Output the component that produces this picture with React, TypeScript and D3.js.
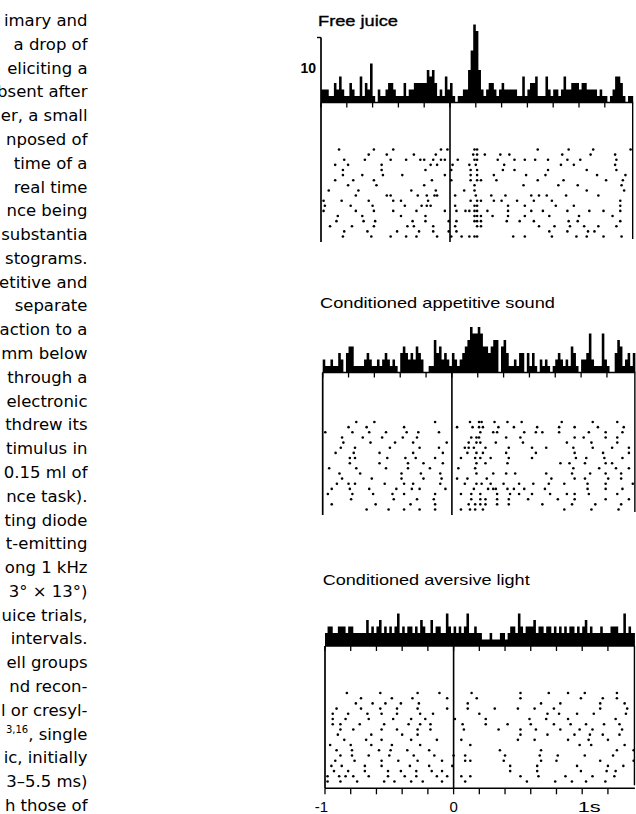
import React from "react";
import * as d3 from "d3";

// ---------------- DATA ----------------
const panelTitles = ["Free juice", "Conditioned appetitive sound", "Conditioned aversive light"];
const timeTicks = [-1, -0.8, -0.6, -0.4, -0.2, 0, 0.2, 0.4, 0.6, 0.8, 1, 1.2];
const bottomTickValues = [-1, 0, 1];
const bottomTickLabels = ["-1", "0", "1s"];
const scaleBarValue = 10;
const scaleBarLabel = "10";
const binStart = -1;
const binWidth = 0.02;

// impulses per 20 ms bin, from -1 s
const juiceCounts = [
  2, 2, 2, 1, 1, 3, 2, 4, 2, 1,
  1, 3, 2, 1, 1, 4, 1, 3, 2, 6,
  1, 0, 2, 1, 1, 2, 3, 3, 2, 1,
  1, 1, 3, 1, 2, 2, 3, 3, 3, 3,
  3, 5, 4, 5, 3, 1, 2, 1, 4, 2,
  3, 1, 0, 1, 1, 2, 2, 5, 8, 12,
  11, 5, 2, 1, 2, 3, 3, 2, 1, 2,
  3, 2, 2, 2, 2, 2, 1, 1, 4, 1,
  2, 3, 3, 4, 1, 1, 1, 4, 2, 1,
  2, 2, 1, 2, 4, 2, 2, 3, 3, 3,
  2, 3, 3, 2, 2, 2, 2, 1, 2, 1,
  1, 0, 1, 2, 4, 4, 3, 1, 0, 1, 1,
];
const soundCounts = [
  2, 1, 1, 2, 1, 1, 3, 2, 0, 3,
  4, 4, 1, 1, 1, 1, 2, 3, 2, 1,
  1, 2, 1, 2, 3, 2, 1, 2, 1, 0,
  3, 4, 3, 2, 3, 2, 4, 3, 2, 0,
  0, 1, 1, 5, 3, 4, 2, 3, 2, 1,
  3, 2, 1, 2, 3, 4, 5, 7, 6, 6,
  7, 6, 4, 4, 3, 4, 5, 5, 0, 4,
  5, 3, 1, 1, 2, 1, 3, 3, 0, 3,
  1, 3, 1, 0, 2, 1, 2, 1, 0, 1,
  2, 3, 2, 1, 2, 1, 4, 3, 1, 0,
  2, 2, 3, 6, 2, 1, 1, 1, 6, 2,
  1, 0, 0, 3, 5, 4, 1, 2, 3, 1, 3,
];
const lightCounts = [
  2, 3, 3, 2, 2, 3, 3, 3, 2, 3,
  3, 2, 2, 2, 2, 2, 4, 2, 3, 2,
  3, 4, 2, 3, 2, 3, 2, 3, 5, 2,
  3, 2, 3, 3, 2, 3, 2, 4, 3, 2,
  2, 4, 2, 3, 3, 2, 2, 5, 3, 2,
  3, 2, 3, 2, 3, 5, 2, 2, 3, 2,
  2, 1, 1, 1, 2, 1, 1, 1, 2, 2,
  1, 2, 3, 3, 2, 5, 3, 2, 3, 3,
  3, 4, 2, 3, 3, 2, 3, 3, 2, 3,
  2, 3, 2, 3, 2, 3, 3, 2, 3, 2,
  3, 4, 2, 3, 2, 2, 2, 3, 2, 2,
  2, 3, 3, 3, 2, 2, 5, 2, 3, 2, 2,
];

// spike times (s) per trial
const juiceRaster = [
  [-0.86, -0.59, -0.44, -0.07, -0.02, 0.19, 0.21, 0.68, 0.92, 1.11, 1.40],
  [-0.63, -0.49, -0.28, -0.11, 0.18, 0.21, 0.27, 0.39, 0.46, 0.87, 1.09, 1.28],
  [-0.82, -0.66, -0.46, -0.34, -0.23, -0.20, -0.13, -0.07, -0.04, 0.06, 0.19, 0.21, 0.37, 0.50, 0.58, 0.66, 0.76, 0.91, 1.01, 1.29],
  [-0.89, -0.79, -0.53, -0.15, -0.10, 0.02, 0.15, 0.20, 0.42, 0.86, 0.96, 1.28],
  [-0.83, -0.53, -0.19, 0.01, 0.16, 0.21, 0.41, 0.50, 0.76, 1.06, 1.29],
  [-0.83, -0.68, -0.52, -0.37, -0.04, 0.16, 0.21, 0.34, 0.59, 0.74, 1.14, 1.36],
  [-0.89, -0.75, -0.59, -0.14, 0.01, 0.16, 0.21, 0.24, 0.36, 0.68, 0.88, 1.21, 1.34],
  [-0.79, -0.57, -0.20, 0.19, 0.57, 0.84, 0.99, 1.33],
  [-0.94, -0.71, -0.30, -0.11, 0.11, 0.19, 1.06, 1.35],
  [-0.73, -0.49, -0.46, -0.25, -0.18, -0.12, -0.10, 0.04, 0.20, 0.32, 0.43, 0.63, 0.69, 0.75, 0.90, 1.15],
  [-0.98, -0.84, -0.63, -0.44, -0.38, -0.17, 0.16, 0.21, 0.24, 0.34, 0.40, 0.52, 0.65, 0.79, 1.32],
  [-0.97, -0.77, -0.60, -0.35, -0.22, -0.18, -0.15, 0.04, 0.19, 0.21, 0.45, 0.58, 0.82, 0.96, 1.32],
  [-0.98, -0.73, -0.59, -0.44, -0.26, -0.04, 0.05, 0.12, 0.15, 0.19, 0.21, 0.29, 0.45, 0.63, 0.72, 0.91, 1.08, 1.19, 1.32],
  [-0.87, -0.68, -0.38, -0.19, 0.19, 0.21, 0.24, 0.33, 0.45, 0.58, 0.77, 1.00, 1.26],
  [-0.88, -0.67, -0.58, -0.29, -0.19, -0.01, 0.05, 0.19, 0.21, 0.24, 0.44, 0.54, 0.65, 0.92, 0.99, 1.32],
  [-0.93, -0.76, -0.59, -0.33, -0.28, -0.13, 0.04, 0.21, 0.24, 0.69, 0.81, 0.93, 1.04, 1.15, 1.29],
  [-0.82, -0.64, -0.41, -0.24, -0.13, -0.01, 0.05, 0.77, 0.91, 1.07, 1.12],
  [-0.83, -0.61, -0.46, -0.34, -0.26, -0.10, 0.01, 0.09, 0.15, 0.19, 0.21, 0.49, 0.58, 0.79, 0.98, 1.06, 1.19, 1.33],
];
const soundRaster = [
  [-0.74, -0.60, -0.13, 0.14, 0.21, 0.23, 0.33, 0.43, 0.54, 0.85, 1.09, 1.28],
  [-0.80, -0.66, -0.37, 0.04, 0.16, 0.21, 0.24, 0.36, 0.48, 0.66, 0.83, 0.95, 1.13, 1.33],
  [-0.98, -0.77, -0.64, -0.51, -0.35, -0.26, -0.10, 0.22, 0.32, 0.35, 0.56, 0.65, 0.70, 0.83, 1.06, 1.19, 1.32],
  [-0.85, -0.69, -0.54, -0.38, -0.27, 0.15, 0.19, 0.21, 0.42, 0.53, 0.95, 1.02, 1.19, 1.28],
  [-0.84, -0.63, -0.44, -0.30, -0.04, 0.13, 0.19, 0.22, 0.34, 0.55, 0.89, 1.08, 1.28],
  [-0.86, -0.75, -0.48, -0.25, -0.10, 0.10, 0.13, 0.17, 0.26, 0.44, 0.62, 0.73, 0.94, 1.09, 1.24, 1.37],
  [-0.90, -0.76, -0.56, -0.30, -0.07, 0.12, 0.19, 0.24, 0.42, 0.65, 0.95, 1.17, 1.37],
  [-0.79, -0.75, -0.50, -0.36, -0.28, -0.13, 0.07, 0.18, 0.22, 0.30, 0.44, 0.62, 0.96, 1.04, 1.18, 1.32],
  [-0.79, -0.56, -0.34, -0.22, -0.07, 0.19, 0.26, 0.43, 0.84, 0.91, 1.03, 1.19, 1.24],
  [-0.95, -0.74, -0.51, -0.34, -0.17, 0.05, 0.18, 0.94, 1.14, 1.27, 1.37],
  [-0.87, -0.71, -0.39, -0.24, -0.09, 0.19, 0.32, 0.42, 0.49, 0.73, 0.93, 1.07, 1.19, 1.31],
  [-0.85, -0.62, -0.39, -0.22, -0.08, 0.04, 0.12, 0.27, 0.77, 0.95, 1.03, 1.21, 1.31],
  [-0.89, -0.80, -0.75, -0.52, -0.37, -0.30, -0.09, 0.10, 0.19, 0.23, 0.30, 0.40, 0.52, 0.63, 0.75, 0.87, 1.05, 1.19, 1.40],
  [-0.93, -0.79, -0.64, -0.43, -0.31, -0.25, -0.05, 0.17, 0.28, 0.32, 0.34, 0.43, 0.48, 0.56, 0.72, 1.05, 1.19, 1.32],
  [-0.96, -0.77, -0.61, -0.46, -0.37, -0.13, 0.07, 0.15, 0.22, 0.35, 0.45, 0.52, 0.62, 0.76, 0.89, 0.95, 1.06, 1.28],
  [-0.78, -0.45, -0.27, -0.14, 0.15, 0.22, 0.26, 0.35, 0.44, 0.59, 0.82, 0.95, 1.19, 1.37],
  [-0.93, -0.59, -0.32, -0.13, 0.13, 0.18, 0.22, 0.26, 0.35, 0.44, 0.70, 0.93, 1.11, 1.31],
  [-0.66, -0.49, -0.37, -0.25, -0.13, 0.07, 0.14, 0.18, 0.24, 0.87, 1.08, 1.29],
];
const lightRaster = [
  [-0.83, -0.57, -0.28, -0.11, 0.14, 0.52, 0.74, 0.89, 1.02, 1.27],
  [-0.72, -0.48, -0.32, -0.05, 0.18, 0.52, 0.99, 1.16, 1.27],
  [-0.76, -0.63, -0.53, -0.41, -0.27, 0.11, 0.68, 0.83, 1.14, 1.33],
  [-0.91, -0.72, -0.57, -0.44, -0.28, -0.05, 0.11, 0.32, 0.50, 0.63, 0.78, 1.14, 1.35],
  [-0.94, -0.82, -0.67, -0.56, -0.44, -0.26, -0.16, 0.20, 0.73, 0.82, 0.96, 1.09, 1.34],
  [-0.94, -0.84, -0.66, -0.47, -0.33, -0.22, 0.01, 0.25, 0.59, 0.72, 0.89, 1.26],
  [-0.94, -0.88, -0.73, -0.54, -0.35, -0.26, -0.18, 0.07, 0.25, 0.42, 0.60, 0.78, 0.91, 1.03, 1.17, 1.29],
  [-0.88, -0.78, -0.56, -0.44, -0.28, -0.18, 0.08, 0.35, 0.52, 0.64, 0.83, 0.98, 1.08, 1.31],
  [-0.90, -0.64, -0.40, -0.28, 0.52, 0.73, 0.94, 1.06, 1.16, 1.29],
  [-0.85, -0.68, -0.56, -0.33, -0.13, 0.06, 0.50, 0.63, 0.89, 1.05, 1.20],
  [-0.96, -0.80, -0.64, -0.48, -0.26, 0.13, 0.98, 1.07, 1.33],
  [-0.91, -0.79, -0.58, -0.49, -0.36, -0.19, 0.36, 0.68, 1.27, 1.40],
  [-0.88, -0.79, -0.66, -0.50, -0.31, -0.15, 0.00, 0.09, 0.40, 0.67, 0.81, 1.02, 1.24],
  [-0.92, -0.77, -0.56, -0.43, -0.28, -0.09, 0.09, 0.13, 0.39, 0.68, 0.80, 1.14, 1.40],
  [-0.95, -0.87, -0.69, -0.56, -0.34, -0.19, -0.01, 0.44, 0.65, 0.96, 1.20, 1.32],
  [-0.93, -0.82, -0.69, -0.51, -0.41, -0.29, -0.17, -0.09, 0.44, 0.65, 0.99, 1.19, 1.26],
  [-0.98, -0.89, -0.84, -0.78, -0.66, -0.51, -0.38, -0.29, -0.13, -0.05, 0.06, 0.13, 0.52, 0.66, 0.87, 1.08, 1.25],
  [-0.98, -0.88, -0.75, -0.54, -0.46, -0.33, -0.24, -0.09, 0.09, 0.57, 0.79, 0.92, 1.03, 1.18],
];

const paragraphLines = [
  "imary and", "a drop of", "eliciting a", "bsent after", "er, a small", "nposed of",
  "time of a", "real time", "nce being", "substantia", "stograms.", "etitive and",
  "separate", "action to a", "mm below", "through a", "electronic", "thdrew its",
  "timulus in", "0.15 ml of", "nce task).", "ting diode", "t-emitting", "ong 1 kHz",
  "3° × 13°)", "uice trials,", "intervals.", "ell groups", "nd recon-", "l or cresyl-",
  "SUP", "ic, initially", "3–5.5 ms)", "h those of",
];

// ---------------- LAYOUT ----------------
const countsList = [juiceCounts, soundCounts, lightCounts];
const rastersList = [juiceRaster, soundRaster, lightRaster];
const layout = [
  { x0: 321, pps: 129, tEnd: 1.42, base: 102.5, rTop: 149.5, rBot: 236.5, lineBot: 242, tx: 318, ty: 25.7, tLen: 80, bold: true },
  { x0: 322.7, pps: 129.2, tEnd: 1.42, base: 372.5, rTop: 422, rBot: 509.5, lineBot: 515, tx: 320, ty: 307.7, tLen: 235, bold: false },
  { x0: 325, pps: 128.6, tEnd: 1.41, base: 646, rTop: 693, rBot: 781.5, lineBot: 788.3, tx: 322.7, ty: 584.5, tLen: 207, bold: false },
];
const pxPerCount = 6.5;
const FONT = "'Liberation Sans', Arial, Helvetica, sans-serif";

function Panel({ idx }: { idx: number }) {
  const L = layout[idx];
  const counts = countsList[idx];
  const raster = rastersList[idx];
  const xs = d3.scaleLinear().domain([-1, L.tEnd]).range([L.x0, L.x0 + (L.tEnd + 1) * L.pps]);
  const ys = d3.scaleLinear().domain([0, scaleBarValue]).range([L.base, L.base - scaleBarValue * pxPerCount]);
  const rows = d3.scaleLinear().domain([0, raster.length - 1]).range([L.rTop, L.rBot]);
  const right = xs(L.tEnd);

  const pts: [number, number][] = [];
  counts.forEach((c, i) => {
    const t = binStart + i * binWidth;
    if (t < L.tEnd - 1e-9) pts.push([t, c]);
  });
  pts.push([L.tEnd, pts[pts.length - 1][1]]);
  const area = d3
    .area<[number, number]>()
    .curve(d3.curveStepAfter)
    .x((d) => xs(d[0]))
    .y0(L.base)
    .y1((d) => ys(d[1]));

  return (
    <g>
      <text
        x={L.tx}
        y={L.ty}
        fontFamily={FONT}
        fontSize={15}
        textLength={L.tLen}
        lengthAdjust="spacingAndGlyphs"
        fill="#000"
        stroke={L.bold ? "#000" : "none"}
        strokeWidth={L.bold ? 0.35 : 0}
      >
        {panelTitles[idx]}
      </text>
      <path d={area(pts) || ""} fill="#000" />
      <line x1={L.x0} x2={right} y1={L.base} y2={L.base} stroke="#000" strokeWidth={1.6} />
      {timeTicks.map((t) => (
        <line key={t} x1={xs(t)} x2={xs(t)} y1={L.base} y2={L.base + 5} stroke="#000" strokeWidth={1.3} />
      ))}
      <line x1={L.x0} x2={L.x0} y1={idx === 0 ? ys(scaleBarValue) : L.base} y2={L.lineBot} stroke="#000" strokeWidth={1.7} />
      <line x1={xs(0)} x2={xs(0)} y1={L.base} y2={L.lineBot} stroke="#000" strokeWidth={1.6} />
      <line x1={right - 0.5} x2={right - 0.5} y1={L.base} y2={L.lineBot - 3} stroke="#000" strokeWidth={1.4} />
      {idx === 0 && (
        <g>
          <line x1={L.x0 - 4} x2={L.x0} y1={ys(scaleBarValue)} y2={ys(scaleBarValue)} stroke="#000" strokeWidth={1.4} />
          <text x={L.x0 - 5} y={73} textAnchor="end" fontFamily={FONT} fontSize={14} fontWeight="bold" fill="#000">
            {scaleBarLabel}
          </text>
        </g>
      )}
      {raster.map((trial, r) =>
        trial.map((t, k) => <circle key={r + "-" + k} cx={xs(t)} cy={rows(r)} r={1.3} fill="#000" />)
      )}
      {idx === 2 && (
        <g>
          <line x1={L.x0} x2={right} y1={L.lineBot} y2={L.lineBot} stroke="#000" strokeWidth={1.6} />
          {timeTicks.map((t) => (
            <line key={"b" + t} x1={xs(t)} x2={xs(t)} y1={L.lineBot} y2={L.lineBot + 6} stroke="#000" strokeWidth={1.3} />
          ))}
          {bottomTickValues.map((t, i) => (
            <text
              key={"l" + t}
              x={i === 0 ? xs(t) + 3 : i === 1 ? xs(t) : xs(t) - 4.5}
              y={811.5}
              textAnchor={i === 0 ? "end" : i === 1 ? "middle" : "start"}
              fontFamily={FONT}
              fontSize={15}
              textLength={i === 2 ? 23 : undefined}
              lengthAdjust="spacingAndGlyphs"
              fill="#000"
            >
              {bottomTickLabels[i]}
            </text>
          ))}
        </g>
      )}
    </g>
  );
}

export default function App() {
  const lineY = d3.scaleLinear().domain([0, paragraphLines.length - 1]).range([26, 811]);
  const pFont = "'DejaVu Sans', sans-serif";
  return (
    <svg
      width={636}
      height={814}
      viewBox="0 0 636 814"
      style={{ position: "absolute", left: 0, top: 0, background: "#fff" }}
    >
      <rect x={0} y={0} width={636} height={814} fill="#fff" />
      {paragraphLines.map((s, i) =>
        s === "SUP" ? (
          <text key={i} x={87.5} y={lineY(i)} textAnchor="end" fontFamily={pFont} fontSize={16.5} fill="#000">
            <tspan fontSize={10} dy={-6.5}>3,16</tspan>
            <tspan dy={6.5}>, single</tspan>
          </text>
        ) : (
          <text key={i} x={87.5} y={lineY(i)} textAnchor="end" fontFamily={pFont} fontSize={16.5} fill="#000">
            {s}
          </text>
        )
      )}
      {[0, 1, 2].map((i) => (
        <Panel key={i} idx={i} />
      ))}
    </svg>
  );
}
